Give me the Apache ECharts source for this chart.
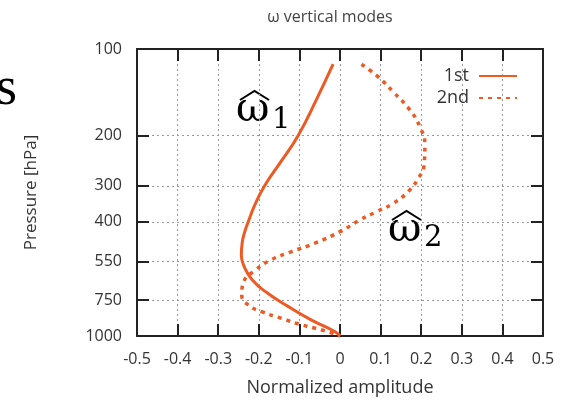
<!DOCTYPE html>
<html>
<head>
<meta charset="utf-8">
<script src="https://cdn.jsdelivr.net/npm/echarts@6/dist/echarts.min.js"></script>
<style>html,body{margin:0;padding:0;background:#fff}#c{width:571px;height:405px}</style>
</head>
<body>
<div id="c"></div>
<script>
// ---- data ----
var xTicks = [-0.5, -0.4, -0.3, -0.2, -0.1, 0, 0.1, 0.2, 0.3, 0.4, 0.5];
var pressureTicks = [100, 200, 300, 400, 550, 750, 1000];

var mode1Pressure = [113, 151, 200, 244, 300, 350, 400, 440, 474, 522, 573, 638, 710, 790, 880, 966, 1000];
var mode1Amp      = [-0.017, -0.059, -0.103, -0.143, -0.186, -0.210, -0.226, -0.236, -0.241, -0.243, -0.236, -0.216, -0.178, -0.127, -0.070, -0.012, 0.0];

var mode2Pressure = [113, 125, 141, 163, 187, 216, 254, 282, 314, 345, 369, 394, 433, 475, 508, 543, 589, 647, 720, 780, 823, 868, 915, 953, 1000];
var mode2Amp      = [0.053, 0.094, 0.131, 0.172, 0.197, 0.209, 0.207, 0.193, 0.168, 0.131, 0.090, 0.049, 0.0, -0.062, -0.119, -0.170, -0.208, -0.237, -0.242, -0.226, -0.193, -0.144, -0.094, -0.045, 0.0];

var seriesNames = ['1st', '2nd'];

// ---- build ----
function lg(p) { return Math.log10(p); }
function pairs(amp, pres) { return amp.map(function (a, i) { return [a, lg(pres[i])]; }); }
var yTickVals = pressureTicks.map(lg);

var COLOR = '#ee5a24';
var TXT = '#333';
var FONT = 'Open Sans';

var chart = echarts.init(document.getElementById('c'), null, {renderer: 'canvas'});

var gridLine = {show: true, lineStyle: {color: '#9a9a9a', type: [2, 3], width: 1}};
var axLine = {show: true, onZero: false, lineStyle: {color: '#222', width: 2}};
var axTick = {show: true, inside: true, length: 12, lineStyle: {color: '#222', width: 2}};

chart.setOption({
  animation: false,
  title: {
    text: 'ω vertical modes',
    left: 325, top: 4, textAlign: 'center',
    textStyle: {fontFamily: FONT, fontSize: 16, fontWeight: 'normal', color: '#444'}
  },
  legend: {
    data: seriesNames,
    orient: 'vertical',
    right: 48, top: 62,
    align: 'right',
    itemWidth: 38, itemHeight: 16, itemGap: 4,
    itemStyle: {opacity: 0},
    textStyle: {fontFamily: FONT, fontSize: 18, color: TXT, padding: [0, 5, 0, 0]}
  },
  grid: {left: 137, right: 28, top: 49, bottom: 69, containLabel: false},
  xAxis: [{
    type: 'value', min: -0.5, max: 0.5, interval: 0.1,
    name: 'Normalized amplitude', nameLocation: 'middle', nameGap: 43,
    nameTextStyle: {fontFamily: FONT, fontSize: 18, color: TXT},
    axisLine: axLine, axisTick: axTick,
    axisLabel: {margin: 15, fontFamily: FONT, fontSize: 16, color: TXT,
      formatter: function (v) { return (Math.round(v * 10) / 10).toString(); }},
    splitLine: gridLine
  }, {
    type: 'value', min: -0.5, max: 0.5, interval: 0.1, position: 'top',
    axisLine: axLine, axisTick: axTick,
    axisLabel: {show: false}, splitLine: {show: false}
  }],
  yAxis: [{
    type: 'value', min: 2, max: 3, inverse: true,
    name: 'Pressure [hPa]', nameLocation: 'middle', nameGap: 97, nameRotate: 90,
    nameTextStyle: {fontFamily: FONT, fontSize: 17, color: TXT},
    axisLine: axLine,
    axisTick: {show: true, inside: true, length: 12, customValues: yTickVals, lineStyle: {color: '#222', width: 2}},
    axisLabel: {margin: 15, fontFamily: FONT, fontSize: 16, color: TXT, customValues: yTickVals,
      formatter: function (v) { return String(Math.round(Math.pow(10, v))); }},
    splitLine: gridLine
  }, {
    type: 'value', min: 2, max: 3, inverse: true, position: 'right',
    axisLine: axLine,
    axisTick: {show: true, inside: true, length: 12, customValues: yTickVals, lineStyle: {color: '#222', width: 2}},
    axisLabel: {show: false, customValues: yTickVals}, splitLine: {show: false}
  }],
  series: [{
    name: seriesNames[0], type: 'line', smooth: 0.5, symbol: 'none',
    xAxisIndex: 0, yAxisIndex: 0,
    lineStyle: {color: COLOR, width: 3},
    itemStyle: {color: COLOR},
    data: pairs(mode1Amp, mode1Pressure)
  }, {
    name: seriesNames[1], type: 'line', smooth: 0.5, symbol: 'none',
    xAxisIndex: 0, yAxisIndex: 0,
    lineStyle: {color: COLOR, width: 3.5, type: [4, 5], cap: 'butt'},
    itemStyle: {color: COLOR},
    data: pairs(mode2Amp, mode2Pressure)
  }],
  graphic: [
    {type: 'text', left: -4, top: 63, style: {text: 's', font: '54px "Liberation Serif"', fill: '#000'}},
    // omega-hat 1
    {type: 'text', style: {x: 236, y: 90, text: 'ω', font: '41px "DejaVu Serif"', fill: '#000'}},
    {type: 'polyline', shape: {points: [[240, 100], [254.5, 91], [269, 100]]}, style: {stroke: '#000', lineWidth: 2, fill: null}},
    {type: 'text', style: {x: 272, y: 106, text: '1', font: '29px "DejaVu Serif"', fill: '#000'}},
    // omega-hat 2
    {type: 'text', style: {x: 388, y: 210, text: 'ω', font: '41px "DejaVu Serif"', fill: '#000'}},
    {type: 'polyline', shape: {points: [[392, 220], [406.5, 211], [421, 220]]}, style: {stroke: '#000', lineWidth: 2, fill: null}},
    {type: 'text', style: {x: 424, y: 224, text: '2', font: '29px "DejaVu Serif"', fill: '#000'}}
  ]
});
</script>
</body>
</html>
